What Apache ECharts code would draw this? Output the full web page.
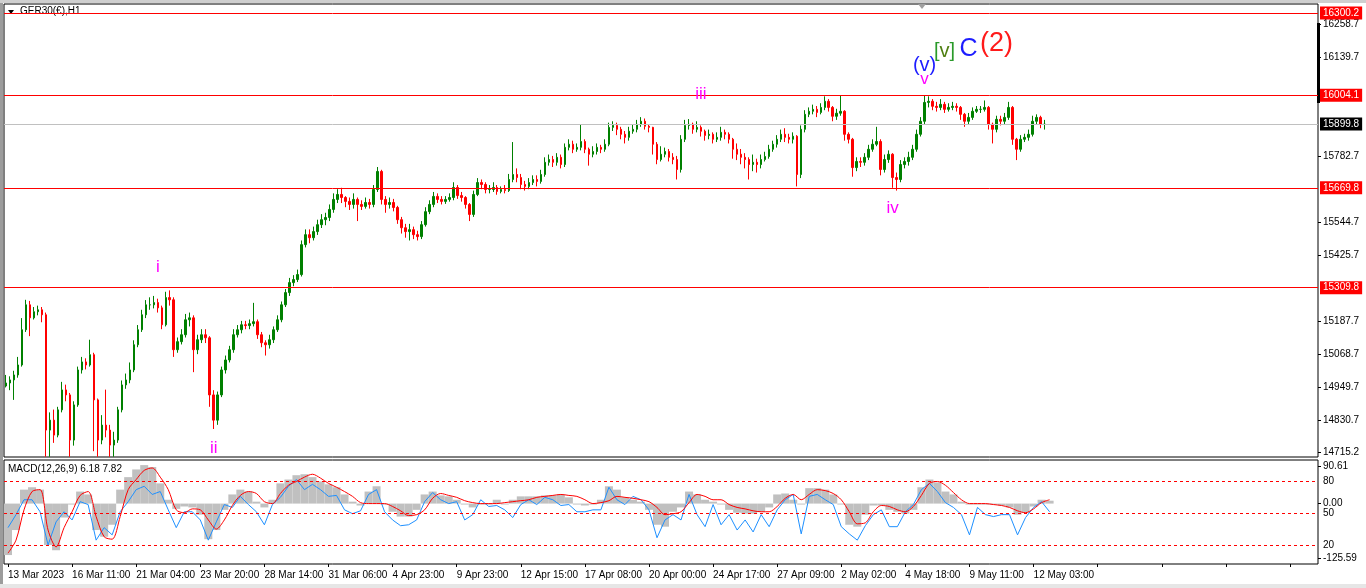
<!DOCTYPE html>
<html>
<head>
<meta charset="utf-8">
<title>GER30(€),H1</title>
<script src="https://cdn.jsdelivr.net/npm/echarts@6.0.0/dist/echarts.min.js"></script>
<style>
  html, body { margin: 0; padding: 0; background: #fff; }
  #chart { width: 1366px; height: 588px; position: relative; }
  .edge { position: absolute; pointer-events: none; }
  .edge.left { left: 0; top: 0; width: 3px; height: 588px; background: #9c9c9c; }
  .edge.top { left: 0; top: 0; width: 1366px; height: 3px; background: #cfcfcf; }
  .edge.bottom { left: 0; top: 584px; width: 1366px; height: 4px; background: #e6e6e6; }
</style>
</head>
<body>
<div id="chart"></div>
<div class="edge left"></div>
<div class="edge top"></div>
<div class="edge bottom"></div>
<script>
// 价格数据：每根约4小时，从图上估读（open 取上一根收盘）
const firstOpen = 14955;
const closes = [
  14966,14977,14995,15031,15158,15248,15201,15223,15230,15212,
  14796,14832,14778,14869,14941,14923,14760,14887,15013,15042,
  15031,15068,14905,14760,14814,14796,14742,14760,14869,14959,
  14977,15013,15104,15158,15212,15248,15248,15256,15237,15176,
  15274,15266,15086,15115,15140,15194,15201,15086,15122,15140,
  15129,14923,14832,14923,15013,15049,15086,15140,15158,15176,
  15173,15180,15187,15140,15111,15104,15122,15158,15194,15248,
  15292,15328,15339,15357,15465,15501,15490,15512,15537,15555,
  15563,15592,15628,15646,15635,15621,15610,15628,15610,15603,
  15617,15610,15664,15729,15628,15610,15617,15599,15555,15526,
  15512,15519,15501,15494,15537,15584,15610,15639,15628,15621,
  15628,15635,15671,15642,15635,15610,15574,15646,15689,15682,
  15664,15664,15671,15657,15664,15660,15700,15718,15707,15682,
  15675,15689,15700,15693,15718,15762,15772,15762,15780,15754,
  15816,15827,15809,15816,15837,15809,15791,15801,15816,15809,
  15827,15888,15895,15881,15863,15852,15874,15881,15899,15910,
  15892,15888,15827,15772,15791,15801,15780,15772,15736,15845,
  15895,15899,15881,15888,15874,15859,15863,15845,15852,15870,
  15863,15845,15809,15791,15780,15772,15754,15762,15754,15772,
  15783,15809,15827,15845,15863,15852,15845,15856,15718,15881,
  15935,15946,15953,15942,15960,15982,15960,15928,15939,15946,
  15863,15845,15743,15765,15762,15780,15809,15827,15837,15736,
  15772,15791,15707,15700,15754,15765,15780,15809,15863,15910,
  15978,15982,15964,15960,15971,15953,15960,15964,15960,15935,
  15910,15924,15946,15953,15953,15960,15899,15881,15917,15910,
  15924,15960,15845,15809,15845,15852,15863,15910,15924,15899,
  15899
];
const highs = [
  14995,14990,15010,15060,15200,15266,15262,15240,15245,15240,
  15220,14860,14870,14880,14970,14960,14930,14900,15025,15060,
  15055,15122,15075,14910,14850,14942,14815,14790,14880,14975,
  15000,15040,15120,15175,15230,15265,15275,15280,15270,15245,
  15295,15300,15275,15130,15160,15215,15220,15210,15140,15160,
  15160,15135,14940,14935,15025,15065,15100,15160,15175,15190,
  15190,15195,15255,15195,15150,15120,15140,15170,15210,15260,
  15305,15345,15355,15375,15480,15520,15520,15530,15555,15575,
  15580,15610,15650,15665,15670,15640,15635,15650,15635,15625,
  15635,15630,15680,15745,15735,15640,15635,15630,15605,15565,
  15540,15540,15530,15515,15550,15600,15625,15655,15650,15640,
  15640,15650,15690,15680,15655,15640,15615,15660,15705,15700,
  15690,15680,15690,15680,15675,15680,15720,15835,15740,15720,
  15695,15705,15715,15715,15735,15780,15790,15785,15795,15790,
  15830,15845,15840,15830,15899,15845,15815,15820,15830,15825,
  15845,15905,15910,15905,15890,15875,15890,15900,15915,15925,
  15920,15900,15890,15835,15820,15815,15810,15795,15785,15860,
  15915,15918,15905,15910,15895,15880,15880,15870,15870,15890,
  15880,15870,15850,15830,15810,15795,15780,15790,15775,15790,
  15800,15825,15840,15860,15880,15885,15865,15870,15860,15895,
  15950,15960,15970,15965,15975,16000,15990,15965,15955,16004,
  15950,15870,15850,15780,15780,15795,15825,15845,15890,15845,
  15790,15805,15795,15725,15770,15780,15800,15825,15880,15925,
  16004,16000,15990,15980,15990,15980,15975,15980,15975,15965,
  15940,15940,15960,15965,15965,15985,15965,15905,15930,15930,
  15940,15980,15965,15850,15860,15865,15880,15930,15935,15930,
  15915
];
const lows = [
  14950,14940,14905,14985,15025,15150,15135,15195,15210,15185,
  14700,14700,14750,14770,14860,14900,14700,14740,14880,15000,
  15015,15025,14720,14700,14745,14770,14700,14700,14750,14860,
  14945,14965,15005,15095,15150,15200,15230,15235,15220,15160,
  15170,15245,15060,15075,15105,15130,15170,15005,15070,15110,
  15110,14880,14800,14815,14915,15000,15040,15075,15130,15145,
  15160,15160,15170,15125,15095,15065,15090,15110,15150,15185,
  15240,15280,15315,15330,15350,15455,15470,15480,15500,15525,
  15535,15550,15580,15615,15615,15600,15590,15595,15550,15590,
  15595,15595,15600,15655,15610,15580,15595,15585,15540,15505,
  15490,15480,15485,15480,15485,15530,15575,15600,15615,15610,
  15612,15620,15625,15630,15620,15595,15550,15565,15640,15665,
  15650,15650,15655,15645,15650,15650,15655,15690,15690,15665,
  15660,15665,15680,15675,15685,15710,15750,15745,15750,15740,
  15745,15805,15795,15800,15805,15795,15750,15780,15790,15795,
  15800,15820,15875,15860,15845,15830,15840,15865,15870,15890,
  15880,15870,15790,15755,15765,15780,15765,15755,15700,15725,
  15835,15880,15865,15870,15855,15840,15845,15830,15835,15840,
  15845,15830,15775,15770,15755,15740,15700,15730,15725,15740,
  15765,15775,15800,15815,15835,15835,15830,15830,15675,15705,
  15870,15925,15935,15925,15935,15950,15945,15910,15915,15930,
  15840,15830,15710,15730,15745,15750,15770,15800,15820,15715,
  15725,15760,15670,15660,15690,15740,15750,15770,15800,15855,
  15900,15960,15950,15945,15950,15940,15945,15950,15945,15915,
  15890,15900,15915,15940,15940,15945,15880,15830,15870,15895,
  15900,15915,15825,15770,15800,15835,15840,15855,15900,15885,
  15880
];

// MACD 窗口：每点约8小时
const macdMain = [
  -107,-55,29,34,29,-86,-97,-29,-2,25,
  19,-55,-69,-44,29,55,71,80,76,42,
  8,-11,-6,-8,-23,-74,-55,-13,19,29,
  25,4,-8,8,42,50,59,61,55,46,
  40,34,19,4,-4,25,36,-2,-17,-27,
  -27,-13,19,25,17,15,8,-2,-8,-2,
  -2,8,-2,8,15,15,15,17,17,19,
  13,-2,-4,-2,8,36,29,13,8,4,
  -13,-44,-48,-17,-8,25,19,8,4,-2,
  -13,-19,-21,-21,-17,-8,19,21,8,-2,
  32,32,29,19,-2,-44,-48,-23,-4,-4,
  -13,-17,-21,-13,34,50,44,25,19,4,
  -2,-2,-2,-2,-4,-8,-23,-19,-6,8,
  6
];
const macdSignal = [
  -103,-76,-13,25,29,-55,-90,-50,-17,17,
  25,-27,-69,-74,-27,29,50,69,74,55,
  29,-13,-19,-11,-13,-34,-53,-34,-4,17,
  25,21,4,0,21,38,46,55,61,53,
  42,34,25,15,2,0,0,0,-6,-15,
  -25,-23,-13,11,21,17,13,6,2,0,
  0,0,2,4,6,8,13,15,17,19,
  17,15,8,0,2,6,15,13,11,8,
  4,-8,-23,-21,-17,2,19,15,8,8,
  -2,-8,-11,-15,-17,-17,-6,11,19,8,
  19,29,27,21,8,-17,-42,-40,-17,-4,
  -6,-13,-17,-6,17,42,46,38,23,8,
  0,0,0,-2,-4,-8,-15,-19,-11,2,
  8
];
const macdFast = [
  -50,-23,8,8,-17,-86,-38,-17,-34,4,
  -2,-76,-50,-65,-17,4,29,36,19,25,
  -13,-50,-17,-17,-34,-76,-38,-2,-8,15,
  -2,-17,-44,-2,13,36,50,29,40,29,
  15,17,-13,-21,-15,19,29,-17,-34,-46,
  -44,-34,4,23,8,0,4,-34,-23,8,
  -6,-4,-13,-29,-2,8,-2,13,8,-4,
  -2,-17,-17,-13,-13,34,8,-2,15,8,
  -13,-71,-34,-23,-34,19,-23,-48,-2,-44,
  -23,-55,-34,-59,-23,-48,-13,8,19,-63,
  15,19,8,-2,-48,-63,-76,-46,-23,-13,
  -48,-48,-17,-2,29,42,25,2,-8,-23,
  -65,-8,-23,-27,-23,-23,-65,-29,-8,4,
  -17
];

const timeLabels = [
  '13 Mar 2023','16 Mar 11:00','21 Mar 04:00','23 Mar 20:00','28 Mar 14:00',
  '31 Mar 06:00','4 Apr 23:00','9 Apr 23:00','12 Apr 15:00','17 Apr 08:00',
  '20 Apr 00:00','24 Apr 17:00','27 Apr 09:00','2 May 02:00','4 May 18:00',
  '9 May 11:00','12 May 03:00'
];
const priceTicks = [14715.2,14830.7,14949.7,15068.7,15187.7,15425.7,15544.7,15782.7,16139.7,16258.7];
const levelPrices = [16300.2, 16004.1, 15669.8, 15309.8];
const lastPrice = 15899.8;
const macdLevels = [45.5, -19.4, -85.7];
const macdLevelNames = ['80', '50', '20'];

// 波浪标注
const waveNames = ['i', 'ii', 'iii', 'iv', 'v', '(v)', '[v]', 'C', '(2)'];
const waveBars = [38, 52, 174, 222, 230, 230, 235, 241, 248];
const wavePrices = [15384, 14731, 16008, 15597, 16062, 16113, 16160, 16171, 16192];

const FONT = '"Liberation Sans", "DejaVu Sans", sans-serif';
const BAR_SLOTS = 329;   // 主图横向格数
const MACD_SLOTS = 164;  // 副图横向格数

function buildCandles() {
  let out = [], open = firstOpen;
  for (let i = 0; i < closes.length; i++) {
    out.push([open, closes[i], lows[i], highs[i]]);
    open = closes[i];
  }
  return out;
}

function waveStyle(name) {
  if (name === '(v)') return { color: '#1c1cff', fontSize: 20 };
  if (name === 'C') return { color: '#1c1cff', fontSize: 25 };
  if (name === '(2)') return { color: '#ff1a1a', fontSize: 27 };
  if (name === '[v]') return { color: '#2a9a2a', fontSize: 20 };
  return { color: '#ff00ff', fontSize: 17 };
}

function buildWaveMarks() {
  return waveNames.map((n, i) => {
    let s = waveStyle(n);
    let label = { show: true, position: 'inside', color: s.color, fontSize: s.fontSize, fontFamily: FONT };
    if (n === '[v]') {
      label.formatter = '{b|[}{g|v}{b|]}';
      label.rich = {
        b: { color: '#2a9a2a', fontSize: 20, fontFamily: FONT },
        g: { color: '#4f7f12', fontSize: 20, fontFamily: FONT }
      };
    } else {
      label.formatter = n;
    }
    return { coord: [waveBars[i], wavePrices[i]], label: label };
  });
}

function buildLevelLines() {
  let data = levelPrices.map(p => ({
    yAxis: p,
    lineStyle: { color: '#ff0000', width: 1, type: 'solid', opacity: 1 },
    label: { backgroundColor: '#ff0000', color: '#fff' }
  }));
  data.push({
    yAxis: lastPrice,
    lineStyle: { color: '#c0c0c0', width: 1, type: 'solid', opacity: 1 },
    label: { backgroundColor: '#000', color: '#fff' }
  });
  return data;
}

let cats = [], macdCats = [];
for (let i = 0; i < BAR_SLOTS; i++) cats.push(String(i));
for (let i = 0; i < MACD_SLOTS; i++) macdCats.push(String(i));

let chart = echarts.init(document.getElementById('chart'), null, { renderer: 'canvas' });
let option = {
  animation: false,
  backgroundColor: '#fff',
  textStyle: { fontFamily: FONT },
  grid: [
    { left: 4, top: 4, width: 1314, height: 453, show: true, borderColor: '#000', borderWidth: 1, backgroundColor: '#fff' },
    { left: 4, top: 460, width: 1314, height: 104, show: true, borderColor: '#000', borderWidth: 1, backgroundColor: '#fff' }
  ],
  xAxis: [
    {
      gridIndex: 0, type: 'category', data: cats, boundaryGap: true,
      axisLine: { show: false, onZero: false }, axisTick: { show: false }, axisLabel: { show: false }, splitLine: { show: false }
    },
    {
      gridIndex: 1, type: 'category', data: macdCats, boundaryGap: true, position: 'bottom',
      axisLine: { show: false, onZero: false },
      axisTick: { show: true, interval: 7, alignWithLabel: true, length: 3, lineStyle: { color: '#000' } },
      axisLabel: {
        interval: 7, align: 'left', color: '#000', fontSize: 10, margin: 6, fontFamily: FONT,
        formatter: (v, idx) => timeLabels[idx / 8] || ''
      },
      splitLine: { show: false }
    }
  ],
  yAxis: [
    {
      gridIndex: 0, type: 'value', position: 'right', min: 14699, max: 16333, scale: true,
      splitLine: { show: false }, axisLine: { show: false },
      axisTick: { show: true, customValues: priceTicks, length: 3, lineStyle: { color: '#000' } },
      axisLabel: { customValues: priceTicks, formatter: v => v.toFixed(1), color: '#000', fontSize: 10, margin: 5, fontFamily: FONT }
    },
    {
      gridIndex: 1, type: 'value', position: 'right', min: -125.59, max: 90.61,
      splitLine: { show: false }, axisLine: { show: false },
      axisTick: { show: true, customValues: [78, 0, -113], length: 3, lineStyle: { color: '#000' } },
      axisLabel: {
        customValues: [78, 0, -113], color: '#000', fontSize: 10, margin: 5, fontFamily: FONT,
        formatter: v => v > 50 ? '90.61' : (v < -50 ? '-125.59' : '0.00')
      }
    }
  ],
  series: [
    {
      name: 'GER30', type: 'candlestick', xAxisIndex: 0, yAxisIndex: 0,
      data: buildCandles(), barWidth: 2, clip: true,
      itemStyle: { color: '#008000', color0: '#ff0000', borderColor: '#008000', borderColor0: '#ff0000', borderWidth: 1 },
      markPoint: {
        silent: true, symbol: 'rect', symbolSize: 1, itemStyle: { color: 'rgba(0,0,0,0)' },
        data: buildWaveMarks()
      }
    },
    {
      // 水平价位线，单独挂在一个空序列上
      name: 'Levels', type: 'line', xAxisIndex: 0, yAxisIndex: 0, data: [],
      itemStyle: { color: '#ff0000' },
      markLine: {
        silent: true, symbol: 'none', animation: false,
        lineStyle: { color: '#ff0000', width: 1, type: 'solid', opacity: 1 },
        label: { show: true, position: 'end', distance: 2, fontSize: 10, fontFamily: FONT, padding: [2, 3, 1, 3], formatter: p => p.value.toFixed(1) },
        data: buildLevelLines()
      },
      z: 5
    },
    {
      name: 'MACD', type: 'bar', xAxisIndex: 1, yAxisIndex: 1,
      data: macdMain, barCategoryGap: '0%', itemStyle: { color: '#c0c0c0' },
      markLine: {
        silent: true, symbol: 'none', animation: false,
        lineStyle: { color: '#ff0000', width: 1, type: [3, 3] },
        label: { show: true, position: 'end', distance: 5, color: '#000', fontSize: 10, fontFamily: FONT },
        data: macdLevels.map((v, i) => ({ yAxis: v, label: { formatter: macdLevelNames[i] } }))
      }
    },
    {
      name: 'Signal', type: 'line', xAxisIndex: 1, yAxisIndex: 1, data: macdSignal,
      showSymbol: false, smooth: 0.3, lineStyle: { color: '#ff0000', width: 1 }, z: 4
    },
    {
      name: 'Fast', type: 'line', xAxisIndex: 1, yAxisIndex: 1, data: macdFast,
      showSymbol: false, lineStyle: { color: '#1e90ff', width: 1 }, z: 3
    }
  ],
  graphic: [
    { type: 'polygon', shape: { points: [[8, 10], [14, 10], [11, 14]] }, style: { fill: '#000' } },
    { type: 'text', left: 20, top: 6, style: { text: 'GER30(€),H1', fill: '#000', font: '10px ' + FONT } },
    { type: 'text', left: 8, top: 464, style: { text: 'MACD(12,26,9) 6.18 7.82', fill: '#000', font: '10px ' + FONT } },
    { type: 'rect', shape: { x: 1317, y: 23, width: 3, height: 80 }, style: { fill: '#000' } },
    { type: 'polygon', shape: { points: [[918, 4], [926, 4], [922, 9]] }, style: { fill: '#a0a0a0' } }
  ]
};
chart.setOption(option);
</script>
</body>
</html>
